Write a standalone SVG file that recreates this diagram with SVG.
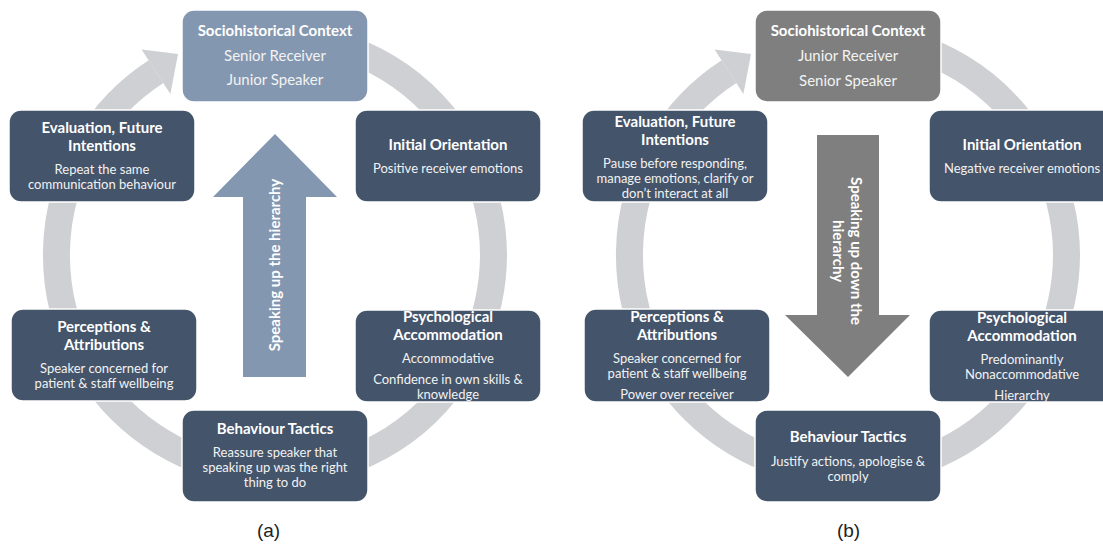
<svg xmlns="http://www.w3.org/2000/svg" width="1103" height="544" viewBox="0 0 1103 544">
  <style>
    .box { fill: #44546a; stroke: #ffffff; stroke-width: 1.5; }
    .ctx-a { fill: #8497b0; stroke: #ffffff; stroke-width: 1.5; }
    .ctx-b { fill: #7f7f7f; stroke: #ffffff; stroke-width: 1.5; }
    .ring { fill: none; stroke: #cfd0d3; stroke-width: 27; }
    .ring-head { fill: #cfd0d3; }
    .t { font-family: Lato, "Open Sans", sans-serif; font-weight: 700; font-size: 15px; fill: #ffffff; text-anchor: middle; }
    .s { font-family: Lato, "Open Sans", sans-serif; font-size: 13px; fill: #f2f2f2; text-anchor: middle; }
    .s2 { font-family: Lato, "Open Sans", sans-serif; font-size: 15px; fill: #f2f2f2; text-anchor: middle; }
    .arr { font-family: Lato, "Open Sans", sans-serif; font-weight: 700; font-size: 15px; fill: #ffffff; text-anchor: middle; }
    .lbl { font-family: "Liberation Sans", Arial, sans-serif; font-size: 19px; fill: #222222; text-anchor: middle; }
  </style>

  <!-- cycle rings, curved arrowheads and the central hierarchy arrows -->
  <g id="connectors">
    <path class="ring" d="M 237.1 39.8 A 218.5 218.5 0 1 1 156 71.7"/>
    <polygon class="ring-head" points="141.6,49.5 178,54 170.4,94"/>
    <path class="ring" d="M 810.1 39.8 A 218.5 218.5 0 1 1 729 71.7"/>
    <polygon class="ring-head" points="714.6,49.5 751,54 743.4,94"/>
    <polygon fill="#8497b0" points="243,377 243,197 213,197 275,134 337,197 306,197 306,377"/>
    <polygon fill="#7f7f7f" points="817,135 879,135 879,315 910,315 848,377 785,315 817,315"/>
  </g>

  <g id="arrow-up-label">
    <text class="arr" transform="translate(280 265) rotate(-90)">Speaking up the hierarchy</text>
  </g>
  <g id="arrow-down-label">
    <text class="arr" transform="translate(851 251) rotate(90)">Speaking up down the</text>
    <text class="arr" transform="translate(833 251) rotate(90)">hierarchy</text>
  </g>

  <!-- panel (a) -->
  <g id="a-context">
    <rect class="ctx-a" x="182" y="10" width="186" height="92" rx="12"/>
    <text class="t" x="275" y="36">Sociohistorical Context</text>
    <text class="s2" x="275" y="60.5">Senior Receiver</text>
    <text class="s2" x="275" y="85">Junior Speaker</text>
  </g>
  <g id="a-evaluation">
    <rect class="box" x="9" y="110" width="186" height="92" rx="12"/>
    <text class="t" x="102" y="133">Evaluation, Future</text>
    <text class="t" x="102" y="151">Intentions</text>
    <text class="s" x="102" y="174">Repeat the same</text>
    <text class="s" x="102" y="189">communication behaviour</text>
  </g>
  <g id="a-orientation">
    <rect class="box" x="355" y="110" width="186" height="92" rx="12"/>
    <text class="t" x="448" y="149.5">Initial Orientation</text>
    <text class="s" x="448" y="172.5">Positive receiver emotions</text>
  </g>
  <g id="a-perceptions">
    <rect class="box" x="11" y="309" width="186" height="92" rx="12"/>
    <text class="t" x="104" y="332">Perceptions &amp;</text>
    <text class="t" x="104" y="350">Attributions</text>
    <text class="s" x="104" y="372.5">Speaker concerned for</text>
    <text class="s" x="104" y="387.5">patient &amp; staff wellbeing</text>
  </g>
  <g id="a-accommodation">
    <rect class="box" x="355" y="310" width="186" height="92" rx="12"/>
    <text class="t" x="448" y="322">Psychological</text>
    <text class="t" x="448" y="340">Accommodation</text>
    <text class="s" x="448" y="362.5">Accommodative</text>
    <text class="s" x="448" y="383.5">Confidence in own skills &amp;</text>
    <text class="s" x="448" y="398.5">knowledge</text>
  </g>
  <g id="a-tactics">
    <rect class="box" x="182" y="410" width="186" height="92" rx="12"/>
    <text class="t" x="275" y="434">Behaviour Tactics</text>
    <text class="s" x="275" y="456.5">Reassure speaker that</text>
    <text class="s" x="275" y="471.5">speaking up was the right</text>
    <text class="s" x="275" y="486.5">thing to do</text>
  </g>
  <g id="label-a">
    <text class="lbl" x="268.5" y="537">(a)</text>
  </g>

  <!-- panel (b) -->
  <g id="b-context">
    <rect class="ctx-b" x="755" y="10" width="186" height="92" rx="12"/>
    <text class="t" x="848" y="36">Sociohistorical Context</text>
    <text class="s2" x="848" y="60.5">Junior Receiver</text>
    <text class="s2" x="848" y="85.5">Senior Speaker</text>
  </g>
  <g id="b-evaluation">
    <rect class="box" x="582" y="110" width="186" height="92" rx="12"/>
    <text class="t" x="675" y="127">Evaluation, Future</text>
    <text class="t" x="675" y="144.5">Intentions</text>
    <text class="s" x="675" y="167.5">Pause before responding,</text>
    <text class="s" x="675" y="182.5">manage emotions, clarify or</text>
    <text class="s" x="675" y="197.5">don’t interact at all</text>
  </g>
  <g id="b-orientation">
    <rect class="box" x="929" y="110" width="186" height="92" rx="12"/>
    <text class="t" x="1022" y="150">Initial Orientation</text>
    <text class="s" x="1022" y="172.5">Negative receiver emotions</text>
  </g>
  <g id="b-perceptions">
    <rect class="box" x="584" y="309" width="186" height="93" rx="12"/>
    <text class="t" x="677" y="322">Perceptions &amp;</text>
    <text class="t" x="677" y="340">Attributions</text>
    <text class="s" x="677" y="362.5">Speaker concerned for</text>
    <text class="s" x="677" y="377.5">patient &amp; staff wellbeing</text>
    <text class="s" x="677" y="398.5">Power over receiver</text>
  </g>
  <g id="b-accommodation">
    <rect class="box" x="929" y="310" width="186" height="92" rx="12"/>
    <text class="t" x="1022" y="322.5">Psychological</text>
    <text class="t" x="1022" y="340.5">Accommodation</text>
    <text class="s" x="1022" y="363.5">Predominantly</text>
    <text class="s" x="1022" y="378.5">Nonaccommodative</text>
    <text class="s" x="1022" y="399.5">Hierarchy</text>
  </g>
  <g id="b-tactics">
    <rect class="box" x="755" y="410" width="186" height="92" rx="12"/>
    <text class="t" x="848" y="442">Behaviour Tactics</text>
    <text class="s" x="848" y="465.5">Justify actions, apologise &amp;</text>
    <text class="s" x="848" y="480.5">comply</text>
  </g>
  <g id="label-b">
    <text class="lbl" x="848.5" y="537">(b)</text>
  </g>
</svg>
